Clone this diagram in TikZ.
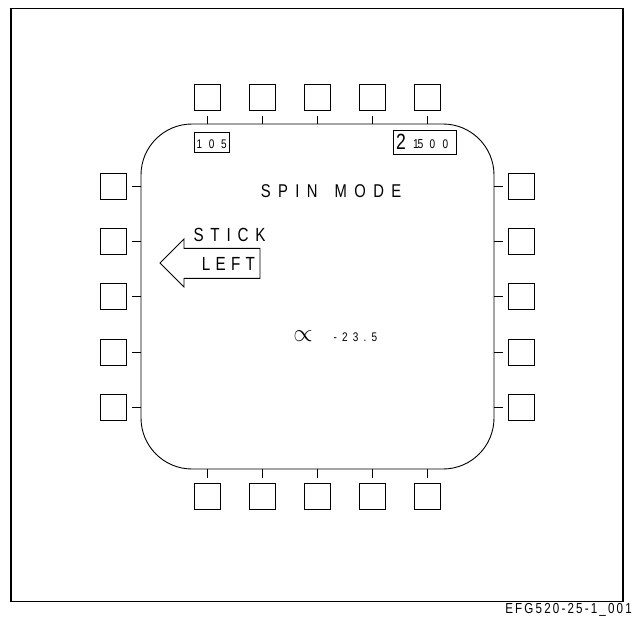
\documentclass[tikz,border=0pt]{standalone}
\usepackage{fontspec}
\newfontfamily\cadfont[FakeStretch=0.8]{Liberation Sans}
\begin{document}
\begin{tikzpicture}[x=1pt,y=-1pt,
  btn/.style={draw, line width=0.9pt, minimum size=26pt, inner sep=0pt},
  tickline/.style={line width=0.9pt},
  lbl/.style={inner sep=0pt, font=\cadfont},
  dig/.style={inner sep=0pt, anchor=base west, font=\cadfont\fontsize{12.5}{12.5}\selectfont},
  labbox/.style={draw, line width=0.8pt, inner sep=0pt}]
\useasboundingbox (0,0) rectangle (632,621);
% outer frame
\node[draw, line width=1.1pt, minimum width=612pt, minimum height=593.5pt, inner sep=0pt] (frame) at (317,304.8) {};
% display
\node[draw, line width=0.9pt, rounded corners=51pt, minimum width=353pt, minimum height=345pt, inner sep=0pt] (disp) at (317.5,296.5) {};
% top buttons
\foreach \i/\x in {1/207,2/262,3/317,4/372,5/427}{
  \node[btn] (t\i) at (\x,97) {};
  \draw[tickline] (disp.north -| t\i) -- ++(0,-7.5);
}
% bottom buttons
\foreach \i/\x in {1/207,2/262,3/317,4/372,5/427}{
  \node[btn] (b\i) at (\x,496.3) {};
  \draw[tickline] (disp.south -| b\i) -- ++(0,8.3);
}
% left buttons
\foreach \i/\y in {1/186.3,2/241.6,3/296.8,4/352,5/407.3}{
  \node[btn] (l\i) at (113.7,\y) {};
  \draw[tickline] (disp.west |- l\i) -- ++(-8.5,0);
}
% right buttons
\foreach \i/\y in {1/186.3,2/241.6,3/296.8,4/352,5/407.3}{
  \node[btn] (r\i) at (521.7,\y) {};
  \draw[tickline] (disp.east |- r\i) -- ++(9,0);
}
% label 105
\node[labbox, minimum width=35pt, minimum height=20.4pt] (lab105) at (211.8,142.5) {};
\node[dig] (d1) at (196.5,148.6) {1};
\node[dig] (d2) at (208.6,148.6) {0};
\node[dig] (d3) at (220.8,148.6) {5};
% label 2 1500
\node[labbox, minimum width=62.7pt, minimum height=24.7pt] (lab2) at (424.7,142.3) {};
\node[lbl, anchor=base west] (e1) at (396.0,149.4) {\fontsize{22}{22}\selectfont 2};
\node[dig, font=\cadfont\fontsize{13}{13}\selectfont] (e2) at (412.8,148.6) {1\hspace{-1.2pt}5};
\node[dig] (e3) at (429.3,148.6) {0};
\node[dig] (e4) at (442.3,148.6) {0};
% texts
\node[lbl, anchor=base west] (spin) at (260.7,197.3)
  {\fontsize{18.5}{18.5}\selectfont\addfontfeature{LetterSpace=40}SPIN\hspace{17pt}MODE};
\node[lbl, anchor=base west] (stick) at (193.3,241.7)
  {\fontsize{19}{19}\selectfont\addfontfeature{LetterSpace=36}STICK};
\node[lbl, anchor=base west] (left) at (201.7,270)
  {\fontsize{19}{19}\selectfont\addfontfeature{LetterSpace=28}LEFT};
\draw[line width=0.9pt, line join=miter] (160,263) -- (184,239) -- (184,248.3) -- (260,248.3) -- (260,278.3) -- (184,278.3) -- (184,287) -- cycle;
\node[inner sep=0pt] (alpha) at (303,336) {\fontsize{28}{28}\selectfont$\propto$};
\node[lbl, anchor=base west] (val) at (333.3,341.7)
  {\fontsize{12.5}{12.5}\selectfont\addfontfeature{LetterSpace=42}-23.5};
\node[lbl, anchor=base east] (code) at (632,613.5)
  {\fontsize{14.5}{14.5}\selectfont\addfontfeature{LetterSpace=15}EFG520-25-1\_001};
\end{tikzpicture}
\end{document}
